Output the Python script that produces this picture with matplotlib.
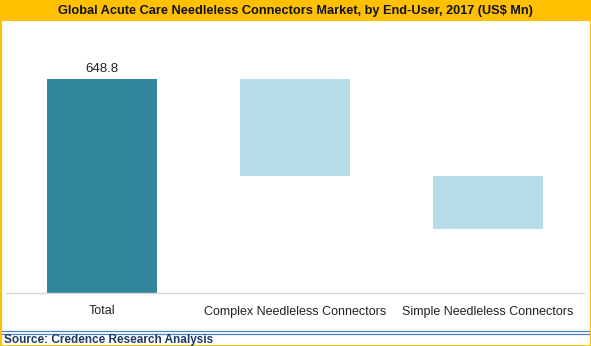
import matplotlib.pyplot as plt
from matplotlib.patches import Rectangle
from matplotlib.lines import Line2D
import numpy as np

# data
categories = ["Total", "Complex Needleless Connectors", "Simple Needleless Connectors"]
total_value = 648.8
segment_values = [294.0, 160.0]
title = "Global Acute Care Needleless Connectors Market, by End-User, 2017 (US$ Mn)"
source = "Source: Credence Research Analysis"

W, H = 591, 346
fig = plt.figure(figsize=(W / 100, H / 100), dpi=100)
plt.rcParams['font.family'] = ['Liberation Sans', 'DejaVu Sans']

ax = fig.add_axes([6 / W, (H - 293) / H, 578 / W, 231 / H])

# waterfall: each segment hangs from where the previous one ended
tops = total_value - np.concatenate([[0], np.cumsum(segment_values)[:-1]])
bottoms = tops - np.array(segment_values)

x = np.arange(len(categories))
ax.bar(x[0], total_value, width=0.57, color="#31859C")
ax.bar(x[1:], segment_values, bottom=bottoms, width=0.57, color="#B7DEE8")
ax.text(x[0], total_value + 12, "%.1f" % total_value, ha="center", va="bottom", fontsize=9.5, color="#222222")

ax.set_xlim(-0.5, 2.5)
ax.set_ylim(0, 700)
ax.set_xticks(x)
ax.set_xticklabels(categories, fontsize=9, color="#222222")
ax.tick_params(axis="x", length=0, pad=9)
ax.set_yticks([])
for s in ["top", "left", "right"]:
    ax.spines[s].set_visible(False)
ax.spines["bottom"].set_color("#D9D9D9")
ax.spines["bottom"].set_linewidth(1.0)

# title bar
fig.patches.append(Rectangle((0, 1 - 21 / H), 1, 21 / H, transform=fig.transFigure,
                             facecolor="#FFC000", edgecolor="none", zorder=0))
fig.text(0.5, 1 - 11 / H, title, ha="center", va="center", fontsize=9.2,
         fontweight="bold", color="#111122")

# double rule above source
for yy in [331, 334]:
    fig.lines.append(Line2D([2 / W, 1 - 2 / W], [1 - yy / H, 1 - yy / H], transform=fig.transFigure,
                            color="#4F81BD", linewidth=0.9))
fig.text(4 / W, 1 - 340 / H, source, ha="left", va="center", fontsize=8.5,
         fontweight="bold", color="#1F3864")

# outer border
fig.patches.append(Rectangle((0.5 / W, 0.5 / H), 1 - 1 / W, 1 - 1 / H, transform=fig.transFigure,
                             facecolor="none", edgecolor="#FFC000", linewidth=1.5))

fig.savefig("out.png", dpi=100)
